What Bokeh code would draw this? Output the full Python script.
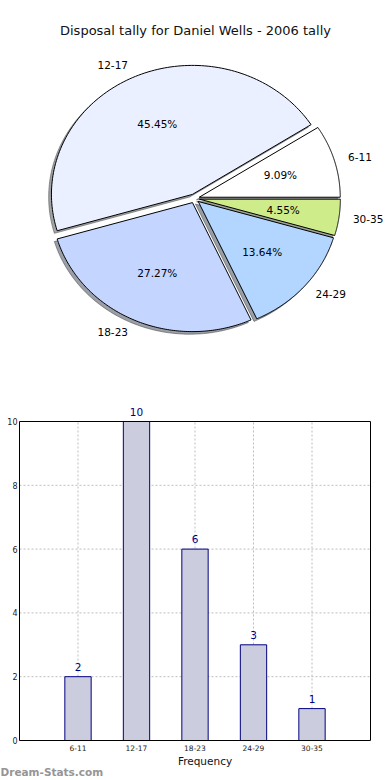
import numpy as np
from bokeh.plotting import figure
from bokeh.models import Range1d, ColumnDataSource, FixedTicker, Title
from bokeh.layouts import column
from bokeh.core.properties import value
from bokeh.embed import file_html
from bokeh.resources import INLINE

# ---------------- data ----------------
title_text = "Disposal tally for Daniel Wells - 2006 tally"
categories = ["6-11", "12-17", "18-23", "24-29", "30-35"]
counts = [2, 10, 6, 3, 1]
pie_colors = ["#ffffff", "#eaf0ff", "#c4d6ff", "#b2d6ff", "#ceec8a"]
explode = [0.035, 0.035, 0.035, 0.035, 0.035]
y_ticks = [0, 2, 4, 6, 8, 10]
x_label = "Frequency"
watermark = "Dream-Stats.com"

FONT = "DejaVu Sans"
W = 390

# ---------------- layout constants (canvas px) ----------------
LEFT = 19          # bar box left
BOX_R = 370        # bar box right
PIE_H = 400
BAR_H = 380
BOX_TOP = 421 - PIE_H   # inside bar figure
BOX_BOT = 740 - PIE_H

# ---------------- pie (pixel space) ----------------
CX, CY, RX, RY = 194.0, 198.0, 141.0, 129.0
SHX, SHY = -2.8, 2.6
N = 120

total = float(sum(counts))
frac = np.array(counts) / total
edges = np.concatenate([[0.0], np.cumsum(frac)]) * 2 * np.pi

xs, ys, sxs, sys_, shadow_cols = [], [], [], [], []
pct_x, pct_y, pct_t = [], [], []
lab_x, lab_y, lab_t, lab_align = [], [], [], []
for i, cat in enumerate(categories):
    a0, a1 = edges[i], edges[i + 1]
    mid = 0.5 * (a0 + a1)
    cx = CX + explode[i] * RX * np.cos(mid)
    cy = CY - explode[i] * RY * np.sin(mid)
    t = np.linspace(a0, a1, N)
    px = np.concatenate([[cx], cx + RX * np.cos(t), [cx]])
    py = np.concatenate([[cy], cy - RY * np.sin(t), [cy]])
    xs.append(list(px)); ys.append(list(py))
    sxs.append(list(px + SHX)); sys_.append(list(py + SHY))
    h = pie_colors[i].lstrip("#")
    r, g, b = (int(h[k:k + 2], 16) for k in (0, 2, 4))
    shadow_cols.append("#%02x%02x%02x" % (int(0.3 * r), int(0.3 * g), int(0.3 * b)))
    pct_x.append(cx + 0.6 * RX * np.cos(mid)); pct_y.append(cy - 0.6 * RY * np.sin(mid))
    pct_t.append("%.2f%%" % (100.0 * counts[i] / total))
    lab_x.append(cx + 1.1 * RX * np.cos(mid)); lab_y.append(cy - 1.1 * RY * np.sin(mid))
    lab_t.append(cat)
    lab_align.append("left" if np.cos(mid) > 0 else "right")

p1 = figure(width=W, height=PIE_H, x_range=Range1d(LEFT, W), y_range=Range1d(PIE_H, 0),
            toolbar_location=None, output_backend="svg",
            min_border_left=LEFT, min_border_right=0, min_border_top=0, min_border_bottom=0,
            x_axis_location=None, y_axis_location=None)
p1.grid.visible = False
p1.outline_line_color = None

p1.patches(sxs, sys_, fill_color=shadow_cols, fill_alpha=0.5,
           line_color=shadow_cols, line_alpha=0.5, line_width=1)
p1.patches(xs, ys, fill_color=pie_colors, line_color="black", line_width=1)

p1.text(x=pct_x, y=pct_y, text=pct_t, text_align="center", text_baseline="middle",
        text_font=value(FONT), text_font_size="10.5px", text_color="black")
src_lab = ColumnDataSource(dict(x=lab_x, y=lab_y, t=lab_t, a=lab_align))
p1.text(x="x", y="y", text="t", text_align="a", text_baseline="middle",
        source=src_lab, text_font=value(FONT), text_font_size="10.5px", text_color="black")
p1.text(x=[W / 2], y=[30], text=[title_text], text_align="center", text_baseline="middle",
        text_font=value(FONT), text_font_size="13px", text_color="#111111")

# ---------------- bar chart ----------------
n = len(categories)
xpos = list(range(1, n + 1))
x0, x1 = 0, n + 1
y0, y1 = y_ticks[0], y_ticks[-1]
ppx = (BOX_R - LEFT) / (x1 - x0)
ppy = (BOX_BOT - BOX_TOP) / (y1 - y0)
p2 = figure(width=W, height=BAR_H,
            x_range=Range1d(x0, x1 + (W - BOX_R) / ppx),
            y_range=Range1d(y0, y1 + BOX_TOP / ppy),
            toolbar_location=None, output_backend="svg",
            min_border_left=LEFT, min_border_right=0, min_border_top=0,
            min_border_bottom=BAR_H - BOX_BOT)
p2.grid.visible = False
p2.outline_line_color = None

# dotted grid inside the box
p2.segment(x0=xpos, y0=[y0] * n, x1=xpos, y1=[y1] * n,
           line_color="#bdbdbd", line_dash="2 2", line_width=1)
p2.segment(x0=[x0] * len(y_ticks), y0=y_ticks, x1=[x1] * len(y_ticks), y1=y_ticks,
           line_color="#bdbdbd", line_dash="2 2", line_width=1)

p2.vbar(x=xpos, top=counts, width=0.45, fill_color="#ccccdf", line_color="#000080", line_width=1)

# box
p2.quad(left=[x0], right=[x1], bottom=[y0], top=[y1], fill_color=None,
        line_color="black", line_width=1)

p2.text(x=xpos, y=counts, text=[str(c) for c in counts], text_align="center",
        text_baseline="alphabetic", y_offset=-10, text_font=value(FONT),
        text_font_size="10.5px", text_color="#000080")

p2.xaxis.ticker = FixedTicker(ticks=xpos)
p2.xaxis.major_label_overrides = {x: c for x, c in zip(xpos, categories)}
p2.yaxis.ticker = FixedTicker(ticks=y_ticks)
p2.axis.axis_line_color = "black"
p2.axis.axis_line_width = 1
p2.xaxis.bounds = (x0, x1)
p2.yaxis.bounds = (y0, y1)
p2.axis.major_tick_line_color = None
p2.axis.minor_tick_line_color = None
p2.axis.major_tick_out = 0
p2.axis.major_tick_in = 0
p2.axis.minor_tick_out = 0
p2.axis.minor_tick_in = 0
p2.yaxis.major_label_text_font_size = "8px"
p2.xaxis.major_label_text_font_size = "7.5px"
p2.axis.major_label_text_font = FONT
p2.axis.major_label_text_color = "#222222"
p2.yaxis.major_label_standoff = 2
p2.xaxis.major_label_standoff = 4
p2.xaxis.axis_label = x_label
p2.xaxis.axis_label_text_font = FONT
p2.xaxis.axis_label_text_font_size = "10.5px"
p2.xaxis.axis_label_text_font_style = "normal"
p2.xaxis.axis_label_text_color = "#111111"
p2.xaxis.axis_label_standoff = 1

p2.add_layout(Title(text=watermark, align="left", offset=-LEFT, standoff=-12,
                    text_font=FONT, text_font_size="10.5px", text_font_style="bold",
                    text_color="#959595"), "below")

layout = column(p1, p2)

open("out.html", "w").write(file_html(layout, INLINE))
